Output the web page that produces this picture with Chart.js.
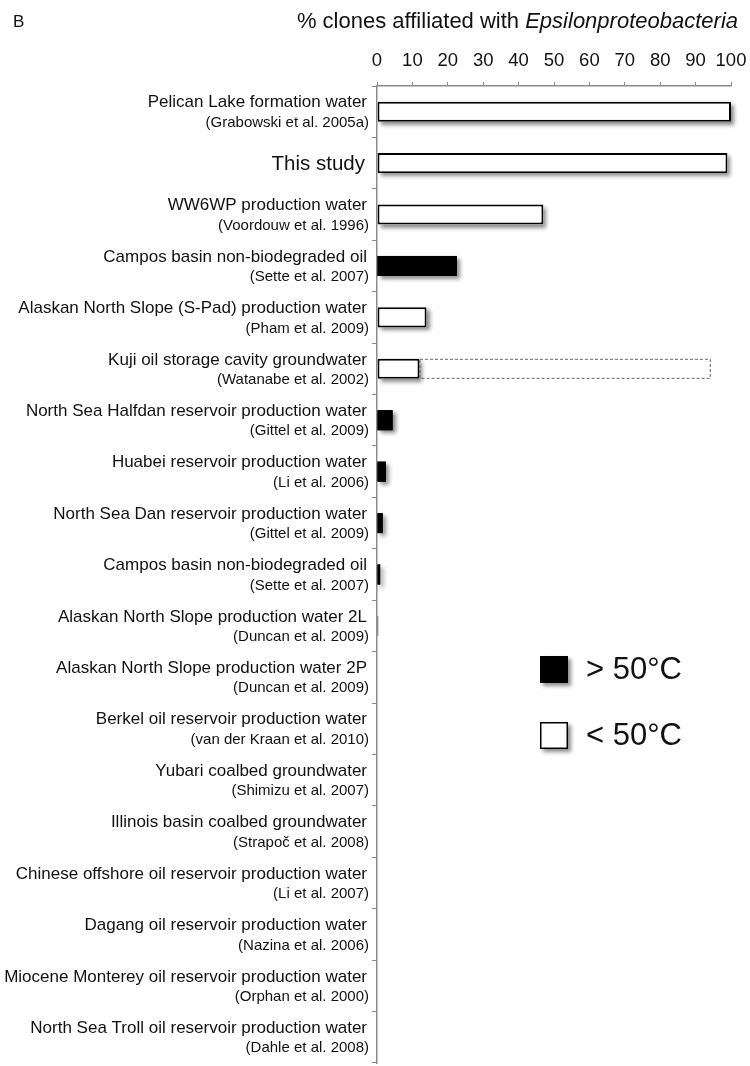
<!DOCTYPE html>
<html>
<head>
<meta charset="utf-8">
<script src="https://cdn.jsdelivr.net/npm/chart.js@4"></script>
<style>
  body { margin: 0; background: #fff; }
  canvas { display: block; }
</style>
</head>
<body>
<canvas id="myChart" width="750" height="1066"></canvas>
<script>
// sites listed top to bottom, with the reference under each one
const sites = [
  'Pelican Lake formation water',
  'This study',
  'WW6WP production water',
  'Campos basin non-biodegraded oil',
  'Alaskan North Slope (S-Pad) production water',
  'Kuji oil storage cavity groundwater',
  'North Sea Halfdan reservoir production water',
  'Huabei reservoir production water',
  'North Sea Dan reservoir production water',
  'Campos basin non-biodegraded oil',
  'Alaskan North Slope production water 2L',
  'Alaskan North Slope production water 2P',
  'Berkel oil reservoir production water',
  'Yubari coalbed groundwater',
  'Illinois basin coalbed groundwater',
  'Chinese offshore oil reservoir production water',
  'Dagang oil reservoir production water',
  'Miocene Monterey oil reservoir production water',
  'North Sea Troll oil reservoir production water'
];
const refs = [
  '(Grabowski et al. 2005a)',
  '',
  '(Voordouw et al. 1996)',
  '(Sette et al. 2007)',
  '(Pham et al. 2009)',
  '(Watanabe et al. 2002)',
  '(Gittel et al. 2009)',
  '(Li et al. 2006)',
  '(Gittel et al. 2009)',
  '(Sette et al. 2007)',
  '(Duncan et al. 2009)',
  '(Duncan et al. 2009)',
  '(van der Kraan et al. 2010)',
  '(Shimizu et al. 2007)',
  '(Strapoč et al. 2008)',
  '(Li et al. 2007)',
  '(Nazina et al. 2006)',
  '(Orphan et al. 2000)',
  '(Dahle et al. 2008)'
];
// % clones affiliated with Epsilonproteobacteria
const hotValues  = [null, null, null, 22.6, null, null, 4.4, 2.5, 1.6, 0.9, null, null, null, null, null, null, null, null, null];
const coolValues = [100, 99, 47, null, 14, 12, null, null, null, null, 0.4, 0, 0, 0, 0, 0, 0, 0, 0];
// dashed range shown for the Kuji site
const kujiRange  = [null, null, null, null, null, [12, 94], null, null, null, null, null, null, null, null, null, null, null, null, null];
const xTicks = [0, 10, 20, 30, 40, 50, 60, 70, 80, 90, 100];

const FONT = "'Liberation Sans', Arial, sans-serif";
const AXIS_GREY = '#8c8c8c';

function barRect(el) {
  const p = el.getProps(['x', 'y', 'base', 'height'], true);
  const left = Math.min(p.x, p.base);
  const w = Math.abs(p.x - p.base);
  return { left: left, top: p.y - p.height / 2, w: w, h: p.height };
}

// grey drop shadow under every bar, and the dashed Kuji range
const shadowPlugin = {
  id: 'shadows',
  beforeDatasetsDraw(chart) {
    const ctx = chart.ctx;
    [0, 1].forEach(di => {
      const meta = chart.getDatasetMeta(di);
      const ds = chart.data.datasets[di];
      meta.data.forEach((el, i) => {
        if (ds.data[i] == null) return;
        const r = barRect(el);
        if (r.w < 1) return;
        ctx.save();
        ctx.shadowColor = 'rgba(0,0,0,0.45)';
        ctx.shadowBlur = 4;
        ctx.shadowOffsetX = 3;
        ctx.shadowOffsetY = 3;
        ctx.fillStyle = ds.backgroundColor;
        ctx.fillRect(r.left, r.top, r.w, r.h);
        ctx.restore();
      });
    });
    const dashMeta = chart.getDatasetMeta(2);
    dashMeta.data.forEach((el, i) => {
      if (kujiRange[i] == null) return;
      const r = barRect(el);
      ctx.save();
      ctx.strokeStyle = '#666';
      ctx.lineWidth = 1;
      ctx.setLineDash([3, 2]);
      ctx.strokeRect(r.left + 0.5, r.top + 0.5, r.w, r.h - 1);
      ctx.restore();
    });
  }
};

// two-line category labels, title, panel letter and legend
const textPlugin = {
  id: 'texts',
  afterDraw(chart) {
    const ctx = chart.ctx;
    const yScale = chart.scales.y;
    ctx.save();
    ctx.fillStyle = '#111';
    ctx.textAlign = 'right';
    ctx.textBaseline = 'middle';
    sites.forEach((name, i) => {
      const y = yScale.getPixelForValue(i);
      if (refs[i] === '') {
        ctx.font = '20.5px ' + FONT;
        ctx.fillText(name, 365, y + 1);
      } else {
        ctx.font = '17px ' + FONT;
        ctx.fillText(name, 367, y - 9);
        ctx.font = '15px ' + FONT;
        ctx.fillText(refs[i], 369, y + 11);
      }
    });

    // panel letter
    ctx.textAlign = 'left';
    ctx.font = '17px ' + FONT;
    ctx.fillText('B', 13, 22);

    // axis title, regular + italic
    const part1 = '% clones affiliated with ';
    const part2 = 'Epsilonproteobacteria';
    ctx.font = '22px ' + FONT;
    const w1 = ctx.measureText(part1).width;
    ctx.font = 'italic 22px ' + FONT;
    const w2 = ctx.measureText(part2).width;
    const startX = 738 - w1 - w2;
    ctx.font = '22px ' + FONT;
    ctx.fillText(part1, startX, 22);
    ctx.font = 'italic 22px ' + FONT;
    ctx.fillText(part2, startX + w1, 22);

    // legend
    const items = [chart.data.datasets[0], chart.data.datasets[1]];
    items.forEach((ds, k) => {
      const bx = 540, by = 656 + k * 66;
      ctx.save();
      ctx.shadowColor = 'rgba(0,0,0,0.45)';
      ctx.shadowBlur = 4;
      ctx.shadowOffsetX = 3;
      ctx.shadowOffsetY = 3;
      ctx.fillStyle = ds.backgroundColor;
      ctx.fillRect(bx, by, 28, 27);
      ctx.restore();
      ctx.lineWidth = 1.5;
      ctx.strokeStyle = '#000';
      ctx.strokeRect(bx + 0.75, by + 0.75, 26.5, 25.5);
      ctx.fillStyle = '#111';
      ctx.font = '31px ' + FONT;
      ctx.textAlign = 'left';
      ctx.fillText(ds.label, 586, by + 14);
    });
    ctx.restore();
  }
};

const ctx = document.getElementById('myChart').getContext('2d');
new Chart(ctx, {
  type: 'bar',
  data: {
    labels: sites,
    datasets: [
      {
        label: '> 50°C',
        data: hotValues,
        backgroundColor: '#000',
        borderColor: '#000',
        borderWidth: 0
      },
      {
        label: '< 50°C',
        data: coolValues,
        backgroundColor: '#fff',
        borderColor: '#000',
        borderWidth: 2
      },
      {
        label: 'range',
        data: kujiRange,
        backgroundColor: 'rgba(0,0,0,0)',
        borderWidth: 0
      }
    ]
  },
  options: {
    indexAxis: 'y',
    responsive: false,
    animation: false,
    layout: { padding: { left: 0, right: 19, top: 0, bottom: 3 } },
    datasets: {
      bar: {
        grouped: false,
        categoryPercentage: 1,
        barPercentage: 0.39,
        borderSkipped: false
      }
    },
    plugins: {
      legend: { display: false },
      tooltip: { enabled: false }
    },
    scales: {
      x: {
        type: 'linear',
        position: 'top',
        min: 0,
        max: 100,
        afterBuildTicks: scale => { scale.ticks = xTicks.map(v => ({ value: v })); },
        afterFit: scale => {
          scale.height = 86;
          // let the layout padding alone decide the plot's right edge
          scale.paddingLeft = 0;
          scale.paddingRight = 0;
        },
        ticks: {
          font: { family: FONT, size: 18.5 },
          color: '#111',
          padding: 10,
          maxRotation: 0
        },
        grid: {
          drawOnChartArea: false,
          tickLength: 4,
          color: AXIS_GREY
        },
        border: { color: AXIS_GREY, width: 1.5 }
      },
      y: {
        type: 'category',
        position: 'left',
        afterFit: scale => { scale.width = 377; },
        ticks: { display: false },
        grid: {
          offset: true,
          drawOnChartArea: false,
          tickLength: 5,
          color: AXIS_GREY
        },
        border: { color: AXIS_GREY, width: 1.5 }
      }
    }
  },
  plugins: [shadowPlugin, textPlugin]
});
</script>
</body>
</html>
